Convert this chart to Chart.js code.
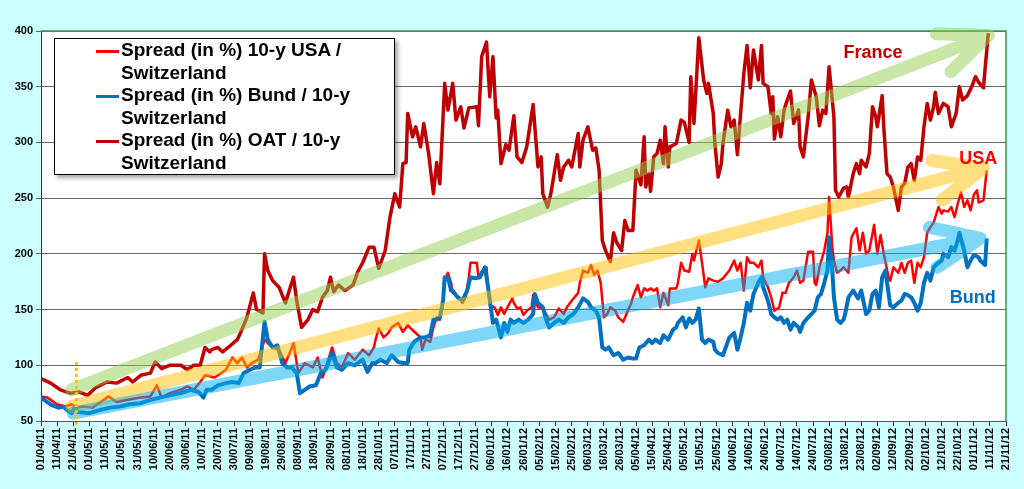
<!DOCTYPE html>
<html>
<head>
<meta charset="utf-8">
<title>Spreads vs 10-y Switzerland</title>
<script src="https://cdn.jsdelivr.net/npm/chart.js@4.4.0/dist/chart.umd.min.js"></script>
<style>
  html, body { margin: 0; padding: 0; background: #ccffff; }
  #wrap { position: relative; width: 1024px; height: 489px; }
  #legend {
    position: absolute; left: 54px; top: 38px; width: 339px; height: 135px;
    background: #fff; border: 1px solid #000;
    box-shadow: 3px 3px 4px rgba(0, 0, 0, 0.35);
    font: bold 19px "Liberation Sans", Arial, sans-serif; line-height: 22.5px; color: #000;
  }
  .item { position: relative; padding-left: 66px; width: 270px; height: 45px; }
  .swatch { position: absolute; left: 41px; top: 11px; width: 23px; height: 3px; }
</style>
</head>
<body>
<div id="wrap">
  <canvas id="myChart" width="1024" height="489"></canvas>
  <div id="legend"></div>
</div>
<script>
// x values = days since 01/04/11
const startDate = Date.UTC(2011, 3, 1);

const seriesLabels = [
  "Spread (in %) 10-y USA / Switzerland",
  "Spread (in %) Bund / 10-y Switzerland",
  "Spread (in %) OAT / 10-y Switzerland",
];
const seriesColors = ["#ff0000", "#0070c0", "#c00000"];

const usaDays = [0,4,10,15,19,22,26,32,42,47,54,62,68,72,75,80,87,91,95,99,102,108,115,119,122,125,128,131,135,139,141,144,148,152,156,157,160,164,169,172,175,178,181,184,187,191,195,200,204,207,208,210,213,216,218,222,225,228,230,233,236,237,239,242,244,246,248,250,251,253,255,256,260,262,264,266,267,271,272,274,277,278,279,282,284,286,288,290,293,294,296,298,300,302,305,306,308,309,312,316,319,322,325,327,330,334,335,337,340,342,344,346,348,350,352,354,357,359,362,364,367,368,371,373,375,377,379,381,383,385,387,390,391,395,396,398,400,403,405,406,409,411,413,415,418,421,424,428,431,433,435,437,439,441,443,446,448,449,452,454,456,459,461,463,465,468,470,472,474,477,480,481,482,484,487,489,490,492,493,495,497,499,502,504,507,509,511,513,515,518,520,522,524,527,528,530,533,535,537,539,541,543,545,547,549,551,553,555,558,560,561,564,566,568,570,572,574,576,578,580,582,583,586,588];
const usaVals = [72,71,65,63,65,62,63,62,72,67,69,71,72,82,71,75,78,81,78,85,91,89,96,107,102,107,98,102,105,123,120,116,114,102,116,120,93,102,98,107,89,102,116,102,98,111,105,114,109,116,123,133,125,129,134,138,130,136,133,129,125,114,123,121,134,143,141,156,176,183,174,165,161,156,161,179,192,192,179,184,188,170,154,152,145,152,146,152,160,156,151,152,145,149,152,163,156,152,151,141,143,151,146,152,158,165,174,185,183,190,181,185,174,143,146,152,149,143,139,146,156,161,172,161,169,167,169,167,169,152,165,154,169,169,174,192,185,184,200,194,212,192,170,178,176,175,178,185,194,185,192,167,197,192,192,188,194,179,170,161,149,152,165,165,174,179,185,174,176,202,202,174,172,188,203,219,251,206,194,183,185,188,183,215,223,203,219,200,203,226,200,217,200,179,176,188,183,192,183,192,194,174,192,188,197,219,224,228,242,236,239,238,242,233,245,255,242,248,239,253,257,246,248,275];

const bundDays = [0,4,7,11,14,16,19,21,23,30,37,43,49,55,62,68,74,80,87,93,98,101,103,106,110,115,119,123,126,130,133,136,139,141,144,147,150,153,156,159,161,164,167,171,174,177,181,184,187,191,195,200,203,206,208,211,215,218,222,225,228,229,232,236,239,242,244,246,248,250,251,253,255,256,259,262,265,267,270,273,276,278,281,283,286,288,290,292,294,297,300,303,306,307,309,312,314,316,319,322,325,328,331,334,337,340,342,345,347,349,351,353,356,359,362,365,368,370,372,375,378,380,382,385,387,390,393,395,396,399,401,403,405,407,409,411,413,415,418,419,421,424,428,431,433,435,437,439,441,443,446,448,449,452,454,456,458,460,462,464,466,468,471,472,474,477,479,481,483,485,487,489,490,492,493,495,497,499,500,502,505,508,510,513,515,517,519,521,523,525,528,530,533,535,537,539,541,543,545,547,549,551,553,555,558,560,561,564,566,568,570,571,574,576,578,580,583,584,587,588];
const bundVals = [71,67,64,62,63,60,57,62,58,57,60,62,63,65,66,69,71,73,75,78,76,71,78,78,82,84,85,84,93,96,98,98,139,123,116,118,102,98,98,93,75,78,81,82,93,96,111,98,96,102,100,105,94,102,102,105,102,109,103,102,102,114,121,125,125,127,141,141,143,158,179,179,167,167,161,158,167,179,178,179,188,170,138,141,125,138,130,141,138,141,138,141,146,164,156,152,141,134,138,141,138,143,146,152,160,157,152,149,143,116,114,116,109,111,105,107,106,106,116,118,123,120,123,120,127,123,132,134,138,143,134,142,138,141,151,123,120,123,121,114,111,109,125,129,114,125,138,156,149,164,174,179,170,158,146,143,141,143,138,141,132,138,134,130,138,143,146,149,161,164,174,185,215,185,161,141,138,141,146,161,167,160,167,146,149,164,167,152,179,185,154,152,156,158,164,163,161,156,149,156,174,183,176,188,192,194,200,197,206,203,212,219,203,188,194,199,197,194,190,214];

const oatDays = [0,6,12,18,24,29,34,41,47,54,57,62,68,71,75,80,87,91,95,99,102,105,106,110,113,118,122,124,128,132,134,138,139,141,144,148,152,155,157,159,162,166,169,172,175,178,180,182,185,189,194,197,200,204,207,210,214,217,220,223,225,227,228,231,233,236,238,241,244,246,248,251,253,256,258,261,263,266,271,272,274,277,279,281,283,284,286,289,291,294,296,299,302,306,309,311,312,315,317,321,323,325,328,330,334,335,337,340,343,345,347,349,351,354,356,358,361,363,365,368,370,373,375,376,378,379,381,383,385,387,388,390,391,395,398,400,403,404,406,409,412,414,415,418,419,421,423,424,427,429,431,433,435,437,439,441,443,446,448,449,452,454,455,456,458,460,462,464,466,468,471,472,474,477,479,482,484,486,488,490,493,494,496,499,501,502,505,507,509,510,513,515,517,519,520,523,524,526,528,530,533,535,537,539,541,543,545,547,549,551,553,555,556,558,561,564,566,569,571,573,576,579,581,583,586,587,589];
const oatVals = [88,84,78,75,76,73,80,85,84,89,85,91,93,103,97,100,100,96,100,100,116,112,114,116,112,118,123,129,143,165,150,147,200,185,176,170,156,170,179,158,134,141,150,148,161,167,179,166,172,167,172,184,192,206,206,187,203,233,254,242,281,282,326,305,314,296,317,290,254,282,263,353,329,353,320,332,313,331,332,315,377,390,341,377,322,329,281,298,293,324,287,282,296,334,278,287,254,242,254,289,266,278,284,278,308,278,302,314,293,295,275,212,203,193,219,210,203,230,221,221,275,262,305,260,272,256,287,290,302,281,314,278,296,299,320,318,300,359,317,394,356,344,353,326,299,269,281,299,329,314,320,289,326,362,387,349,383,356,387,353,350,326,341,303,323,305,329,338,346,317,329,296,287,323,356,341,315,329,326,368,323,257,251,259,260,251,272,281,272,284,278,290,332,323,314,342,314,272,269,260,239,260,263,278,281,266,287,284,314,335,320,332,345,326,335,332,314,326,350,338,342,351,359,354,349,366,398];

// trend arrows and labels, in chart units (day, spread)
const arrowFrom = [[19, 78], [19, 63], [20, 57]];
const arrowTo = [[589, 396], [586, 277], [584, 214]];
const arrowColors = ["rgba(146,208,80,0.5)", "rgba(255,192,0,0.5)", "rgba(0,176,240,0.5)"];
const noteTexts = ["France", "USA", "Bund"];
const notePos = [[499, 376], [571, 281], [565, 156]];
const noteColors = ["#c00000", "#ff0000", "#0070c0"];
const markerDay = 22;
const markerTop = 103;

function dayLabel(d) {
  const dt = new Date(startDate + d * 86400000);
  const dd = String(dt.getUTCDate()).padStart(2, "0");
  const mm = String(dt.getUTCMonth() + 1).padStart(2, "0");
  const yy = String(dt.getUTCFullYear() % 100).padStart(2, "0");
  return dd + "/" + mm + "/" + yy;
}

function toPoints(days, vals) {
  return days.map((d, i) => ({ x: d, y: vals[i] }));
}

const decor = {
  id: "decor",
  beforeDraw(chart) {
    const { ctx, chartArea: a } = chart;
    ctx.save();
    ctx.fillStyle = "#ffffff";
    ctx.fillRect(a.left, a.top, a.right - a.left, a.bottom - a.top);
    ctx.restore();
  },
  beforeDatasetsDraw(chart) {
    const { ctx, chartArea: a } = chart;
    ctx.save();
    ctx.strokeStyle = "#3a9a3a";
    ctx.lineWidth = 1.5;
    ctx.beginPath();
    ctx.moveTo(a.left, a.top);
    ctx.lineTo(a.right, a.top);
    ctx.lineTo(a.right, a.bottom);
    ctx.stroke();
    ctx.restore();
  },
  afterDatasetsDraw(chart) {
    const { ctx, chartArea: a } = chart;
    const xs = chart.scales.x;
    const ys = chart.scales.y;
    ctx.save();
    // arrows
    for (let i = 0; i < arrowFrom.length; i++) {
      const x0 = xs.getPixelForValue(arrowFrom[i][0]);
      const y0 = ys.getPixelForValue(arrowFrom[i][1]);
      const x1 = xs.getPixelForValue(arrowTo[i][0]);
      const y1 = ys.getPixelForValue(arrowTo[i][1]);
      const back = Math.atan2(y0 - y1, x0 - x1);
      const head = 52;
      const spread = (23 * Math.PI) / 180;
      ctx.beginPath();
      ctx.moveTo(x0, y0);
      ctx.lineTo(x1, y1);
      ctx.moveTo(x1 + head * Math.cos(back + spread), y1 + head * Math.sin(back + spread));
      ctx.lineTo(x1, y1);
      ctx.lineTo(x1 + head * Math.cos(back - spread), y1 + head * Math.sin(back - spread));
      ctx.strokeStyle = arrowColors[i];
      ctx.lineWidth = 13;
      ctx.lineCap = "round";
      ctx.lineJoin = "round";
      ctx.stroke();
    }
    // dotted marker
    const mx = xs.getPixelForValue(markerDay);
    ctx.beginPath();
    ctx.setLineDash([3, 3]);
    ctx.moveTo(mx, ys.getPixelForValue(markerTop));
    ctx.lineTo(mx, a.bottom + 6);
    ctx.strokeStyle = "#ffc000";
    ctx.lineWidth = 3;
    ctx.lineCap = "butt";
    ctx.stroke();
    ctx.setLineDash([]);
    // notes
    ctx.font = 'bold 18px "Liberation Sans", Arial, sans-serif';
    ctx.textBaseline = "alphabetic";
    ctx.textAlign = "left";
    for (let i = 0; i < noteTexts.length; i++) {
      ctx.fillStyle = noteColors[i];
      ctx.fillText(noteTexts[i], xs.getPixelForValue(notePos[i][0]), ys.getPixelForValue(notePos[i][1]));
    }
    ctx.restore();
  },
};

const tickFont = { family: '"Liberation Sans", Arial, sans-serif', size: 11, weight: "bold" };

new Chart("myChart", {
  type: "line",
  data: {
    datasets: [
      { label: seriesLabels[0], data: toPoints(usaDays, usaVals), borderColor: seriesColors[0], borderWidth: 2.5, order: 3 },
      { label: seriesLabels[1], data: toPoints(bundDays, bundVals), borderColor: seriesColors[1], borderWidth: 4, order: 2 },
      { label: seriesLabels[2], data: toPoints(oatDays, oatVals), borderColor: seriesColors[2], borderWidth: 3.5, order: 1 },
    ],
  },
  options: {
    responsive: false,
    animation: false,
    layout: { padding: { top: 31, right: 18, left: 0, bottom: 0 } },
    elements: {
      point: { radius: 0 },
      line: { tension: 0, borderJoinStyle: "round", fill: false },
    },
    plugins: { legend: { display: false }, tooltip: { enabled: false } },
    scales: {
      x: {
        type: "linear",
        min: 0,
        max: 600,
        afterFit(s) { s.height = 68; },
        ticks: {
          stepSize: 10,
          autoSkip: false,
          minRotation: 90,
          maxRotation: 90,
          padding: 2,
          color: "#000",
          font: tickFont,
          callback: (v) => dayLabel(v),
        },
        grid: { drawOnChartArea: false, tickLength: 5, color: "#333" },
        border: { color: "#555" },
      },
      y: {
        min: 50,
        max: 400,
        afterFit(s) { s.width = 41; },
        ticks: { stepSize: 50, padding: 3, color: "#000", font: tickFont },
        grid: { color: "#666666", tickLength: 5 },
        border: { color: "#333" },
      },
    },
  },
  plugins: [decor],
});

// legend with wrapped labels
const legend = document.querySelector("#legend");
seriesLabels.forEach((lab, i) => {
  legend.innerHTML +=
    '<div class="item"><span class="swatch" style="background:' + seriesColors[i] + '"></span>' + lab + "</div>";
});
</script>
</body>
</html>
